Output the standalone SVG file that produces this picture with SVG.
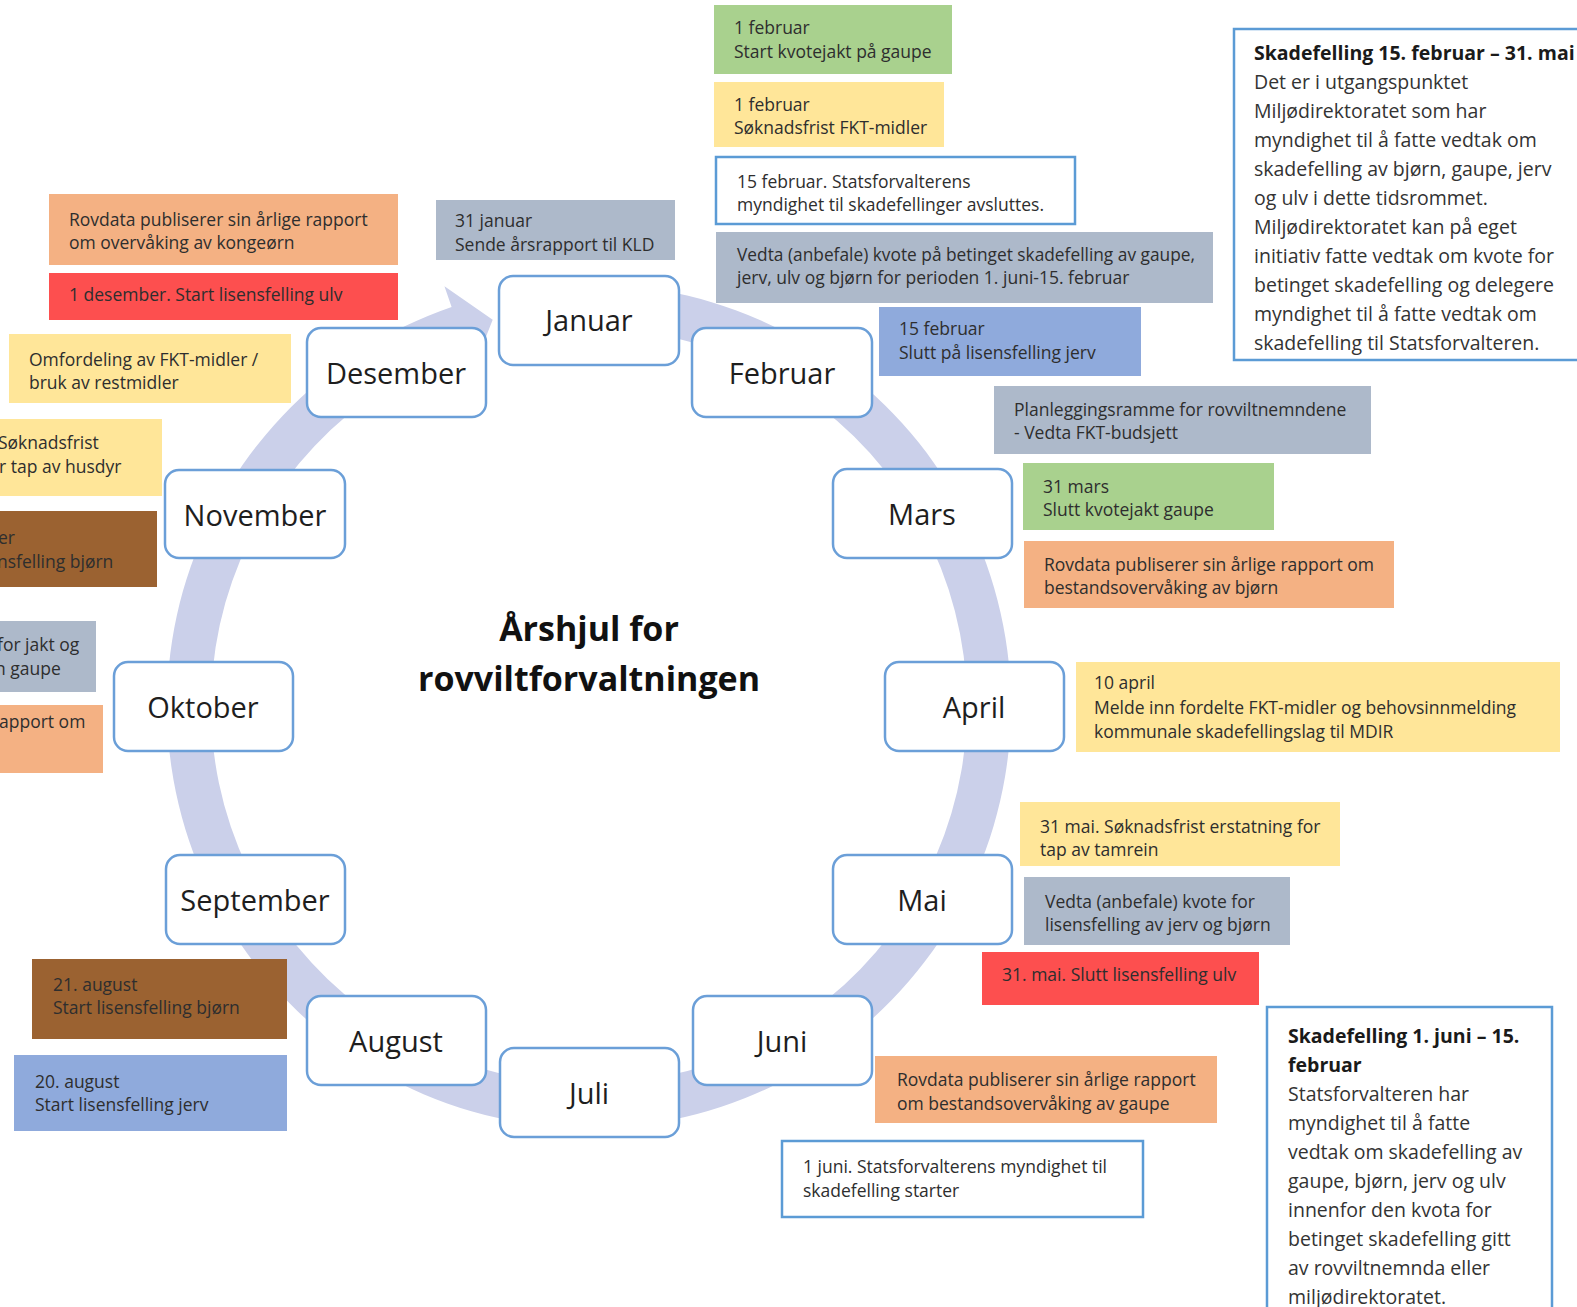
<svg xmlns="http://www.w3.org/2000/svg" width="1577" height="1307" viewBox="0 0 1577 1307">
<style>
text{font-family:"Open Sans","DejaVu Sans",sans-serif;}
.m rect{fill:#fff;stroke:#6b9fd8;stroke-width:2.5;}
.m text{font-size:29px;fill:#1e1e1e;text-anchor:middle;dominant-baseline:central;}
.e text{font-size:17.5px;fill:#2e2e2e;}
.ti{font-size:34px;font-weight:bold;fill:#111;text-anchor:middle;}
.nb text{font-size:19.5px;fill:#333;}
.nb .b{font-weight:bold;fill:#1a1a1a;font-size:19.5px;}
.or{fill:#f4b183;}.rd{fill:#fd4f4f;}.ye{fill:#ffe699;}.gr{fill:#a9d18e;}.gy{fill:#adb9ca;}.bl{fill:#8faadc;}.br{fill:#9b6231;}
.wb{fill:#fff;stroke:#5b9bd5;stroke-width:2.5;}
.ring{fill:#cbd0ea;}
</style>
<rect width="1577" height="1307" fill="#fff"/>
<g id="connectors">
<path class="ring" d="M662.28,290.41 A422,422 0 1 1 451.61,306.99 L444.45,286.19 L492.7,319.8 L473.10,369.39 L465.93,348.59 A378,378 0 1 0 654.64,333.74 Z"/>
</g>
<g id="title"><text class="ti" x="589" y="641">Årshjul for</text><text class="ti" x="589" y="691">rovviltforvaltningen</text></g>
<g id="m-januar" class="m"><rect x="499" y="276" width="180" height="89" rx="14"/><text x="589" y="319">Januar</text></g>
<g id="m-februar" class="m"><rect x="692" y="328" width="180" height="89" rx="14"/><text x="782" y="372">Februar</text></g>
<g id="m-mars" class="m"><rect x="833" y="469" width="179" height="89" rx="14"/><text x="922" y="513">Mars</text></g>
<g id="m-april" class="m"><rect x="885" y="662" width="179" height="89" rx="14"/><text x="974" y="706">April</text></g>
<g id="m-mai" class="m"><rect x="833" y="855" width="179" height="89" rx="14"/><text x="922" y="899">Mai</text></g>
<g id="m-juni" class="m"><rect x="693" y="996" width="179" height="89" rx="14"/><text x="782" y="1040">Juni</text></g>
<g id="m-juli" class="m"><rect x="500" y="1048" width="179" height="89" rx="14"/><text x="589" y="1092">Juli</text></g>
<g id="m-august" class="m"><rect x="307" y="996" width="179" height="89" rx="14"/><text x="396" y="1040">August</text></g>
<g id="m-september" class="m"><rect x="166" y="855" width="179" height="89" rx="14"/><text x="255" y="899">September</text></g>
<g id="m-oktober" class="m"><rect x="114" y="662" width="179" height="89" rx="14"/><text x="203" y="706">Oktober</text></g>
<g id="m-november" class="m"><rect x="165" y="470" width="180" height="88" rx="14"/><text x="255" y="514">November</text></g>
<g id="m-desember" class="m"><rect x="307" y="328" width="179" height="89" rx="14"/><text x="396" y="372">Desember</text></g>

<g id="e-kongeorn" class="e"><rect class="or" x="49" y="194" width="349" height="71"/><text x="69" y="226">Rovdata publiserer sin årlige rapport</text><text x="69" y="249">om overvåking av kongeørn</text></g>
<g id="e-des-ulv" class="e"><rect class="rd" x="49" y="273" width="349" height="47"/><text x="69" y="301">1 desember. Start lisensfelling ulv</text></g>
<g id="e-omfordeling" class="e"><rect class="ye" x="9" y="334" width="282" height="69"/><text x="29" y="366">Omfordeling av FKT-midler /</text><text x="29" y="389">bruk av restmidler</text></g>
<g id="e-husdyr" class="e"><rect class="ye" x="-10" y="419" width="172" height="77"/><text x="-2" y="449">Søknadsfrist</text><text x="-1" y="473">r tap av husdyr</text></g>
<g id="e-bjorn-slutt" class="e"><rect class="br" x="-10" y="511" width="167" height="76"/><text x="-2" y="544">er</text><text x="-3" y="568">nsfelling bjørn</text></g>
<g id="e-jakt" class="e"><rect class="gy" x="-10" y="621" width="106" height="71"/><text x="-3" y="651">for jakt og</text><text x="-5" y="675">n gaupe</text></g>
<g id="e-rapport-okt" class="e"><rect class="or" x="-10" y="705" width="113" height="68"/><text x="-1" y="728">apport om</text></g>
<g id="e-31jan" class="e"><rect class="gy" x="436" y="200" width="239" height="60"/><text x="455" y="227">31 januar</text><text x="455" y="251">Sende årsrapport til KLD</text></g>
<g id="e-1feb-gaupe" class="e"><rect class="gr" x="714" y="5" width="238" height="69"/><text x="734" y="34">1 februar</text><text x="734" y="58">Start kvotejakt på gaupe</text></g>
<g id="e-1feb-fkt" class="e"><rect class="ye" x="714" y="82" width="230" height="65"/><text x="734" y="111">1 februar</text><text x="734" y="134">Søknadsfrist FKT-midler</text></g>
<g id="e-15feb-sf" class="e"><rect class="wb" x="716" y="157" width="359" height="67"/><text x="737" y="188">15 februar. Statsforvalterens</text><text x="737" y="211">myndighet til skadefellinger avsluttes.</text></g>
<g id="e-vedta-betinget" class="e"><rect class="gy" x="716" y="232" width="497" height="71"/><text x="737" y="261" textLength="458" lengthAdjust="spacingAndGlyphs">Vedta (anbefale) kvote på betinget skadefelling av gaupe,</text><text x="737" y="284">jerv, ulv og bjørn for perioden 1. juni-15. februar</text></g>
<g id="e-15feb-jerv" class="e"><rect class="bl" x="879" y="307" width="262" height="69"/><text x="899" y="335">15 februar</text><text x="899" y="359">Slutt på lisensfelling jerv</text></g>
<g id="e-planlegging" class="e"><rect class="gy" x="994" y="386" width="377" height="68"/><text x="1014" y="416">Planleggingsramme for rovviltnemndene</text><text x="1014" y="439">- Vedta FKT-budsjett</text></g>
<g id="e-31mars" class="e"><rect class="gr" x="1023" y="463" width="251" height="67"/><text x="1043" y="493">31 mars</text><text x="1043" y="516">Slutt kvotejakt gaupe</text></g>
<g id="e-bjorn-rapport" class="e"><rect class="or" x="1024" y="541" width="370" height="67"/><text x="1044" y="571">Rovdata publiserer sin årlige rapport om</text><text x="1044" y="594">bestandsovervåking av bjørn</text></g>
<g id="e-10april" class="e"><rect class="ye" x="1076" y="662" width="484" height="90"/><text x="1094" y="689">10 april</text><text x="1094" y="714">Melde inn fordelte FKT-midler og behovsinnmelding</text><text x="1094" y="738">kommunale skadefellingslag til MDIR</text></g>
<g id="e-31mai-tamrein" class="e"><rect class="ye" x="1020" y="802" width="320" height="64"/><text x="1040" y="833">31 mai. Søknadsfrist erstatning for</text><text x="1040" y="856">tap av tamrein</text></g>
<g id="e-vedta-lisens" class="e"><rect class="gy" x="1024" y="877" width="266" height="68"/><text x="1045" y="908">Vedta (anbefale) kvote for</text><text x="1045" y="931">lisensfelling av jerv og bjørn</text></g>
<g id="e-31mai-ulv" class="e"><rect class="rd" x="982" y="952" width="277" height="53"/><text x="1002" y="981">31. mai. Slutt lisensfelling ulv</text></g>
<g id="e-gaupe-rapport" class="e"><rect class="or" x="875" y="1056" width="342" height="67"/><text x="897" y="1086">Rovdata publiserer sin årlige rapport</text><text x="897" y="1110">om bestandsovervåking av gaupe</text></g>
<g id="e-1juni" class="e"><rect class="wb" x="782" y="1141" width="361" height="76"/><text x="803" y="1173">1 juni. Statsforvalterens myndighet til</text><text x="803" y="1197">skadefelling starter</text></g>
<g id="e-21aug" class="e"><rect class="br" x="32" y="959" width="255" height="80"/><text x="53" y="991">21. august</text><text x="53" y="1014">Start lisensfelling bjørn</text></g>
<g id="e-20aug" class="e"><rect class="bl" x="14" y="1055" width="273" height="76"/><text x="35" y="1088">20. august</text><text x="35" y="1111">Start lisensfelling jerv</text></g>

<g id="n-15feb-31mai" class="nb"><rect class="wb" x="1234" y="29" width="400" height="331"/>
<text class="b" x="1254" y="60">Skadefelling 15. februar – 31. mai</text>
<text x="1254" y="89">Det er i utgangspunktet</text>
<text x="1254" y="118">Miljødirektoratet som har</text>
<text x="1254" y="147">myndighet til å fatte vedtak om</text>
<text x="1254" y="176">skadefelling av bjørn, gaupe, jerv</text>
<text x="1254" y="205">og ulv i dette tidsrommet.</text>
<text x="1254" y="234">Miljødirektoratet kan på eget</text>
<text x="1254" y="263">initiativ fatte vedtak om kvote for</text>
<text x="1254" y="292">betinget skadefelling og delegere</text>
<text x="1254" y="321">myndighet til å fatte vedtak om</text>
<text x="1254" y="350">skadefelling til Statsforvalteren.</text>
</g>
<g id="n-1juni-15feb" class="nb"><rect class="wb" x="1267" y="1007" width="285" height="320"/>
<text class="b" x="1288" y="1043">Skadefelling 1. juni – 15.</text>
<text class="b" x="1288" y="1072">februar</text>
<text x="1288" y="1101">Statsforvalteren har</text>
<text x="1288" y="1130">myndighet til å fatte</text>
<text x="1288" y="1159">vedtak om skadefelling av</text>
<text x="1288" y="1188">gaupe, bjørn, jerv og ulv</text>
<text x="1288" y="1217">innenfor den kvota for</text>
<text x="1288" y="1246">betinget skadefelling gitt</text>
<text x="1288" y="1275">av rovviltnemnda eller</text>
<text x="1288" y="1304">miljødirektoratet.</text>
</g>
</svg>
